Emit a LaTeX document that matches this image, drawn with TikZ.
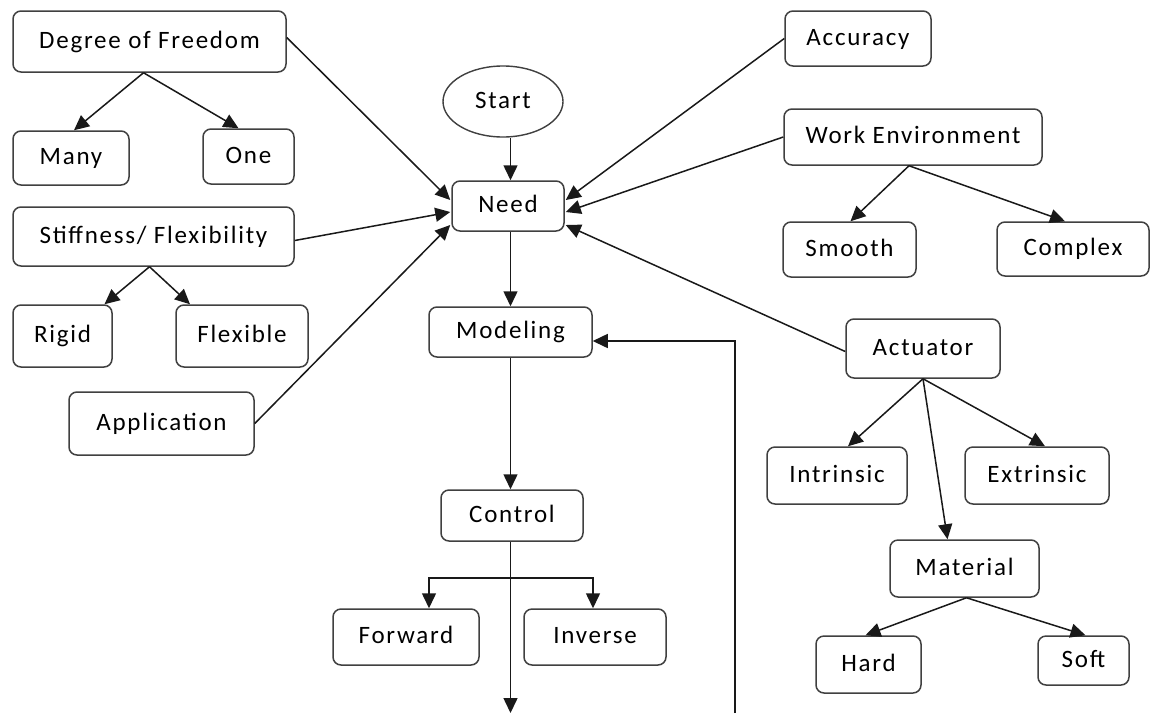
\documentclass[tikz,border=0pt]{standalone}
\usepackage{fontspec}
\setmainfont{Carlito}[LetterSpace=7]
\usetikzlibrary{arrows.meta,shapes.geometric,calc}
\tikzset{
  box/.style={draw=black!75, line width=1.5pt, rounded corners=8pt, fill=white, inner sep=0pt, text height=15pt, text depth=2pt, font=\fontsize{25}{30}\selectfont},
  conn/.style={draw=black!90, line width=1.5pt, -{Triangle[length=15pt,width=14pt]}},
  plain/.style={draw=black!90, line width=1.5pt}
}
\begin{document}
\begin{tikzpicture}[x=1pt,y=-1pt]
\useasboundingbox[fill=white] (0,0) rectangle (1151,713);
% left
\node[box, minimum width=273pt, minimum height=61pt] (dof) at (149.5,41.5) {Degree of Freedom};
\node[box, minimum width=116pt, minimum height=54pt] (many) at (71,158) {Many};
\node[box, minimum width=91pt, minimum height=55pt] (one) at (248.5,156.5) {One};
\node[box, minimum width=281pt, minimum height=59pt] (stf) at (153.5,236.5) {Stiffness/ Flexibility};
\node[box, minimum width=99pt, minimum height=62pt] (rigid) at (62.5,336) {Rigid};
\node[box, minimum width=132pt, minimum height=62pt] (flex) at (242,336) {Flexible};
\node[box, minimum width=185pt, minimum height=63pt] (app) at (161.5,423.5) {Application};
% center
\node[draw=black!75, line width=1.4pt, ellipse, fill=white, minimum width=120pt, minimum height=71pt, inner sep=0pt, text height=15pt, text depth=2pt, font=\fontsize{25}{30}\selectfont] (start) at (503,101.5) {Start};
\node[box, minimum width=112pt, minimum height=50pt] (need) at (508,206) {Need};
\node[box, minimum width=163pt, minimum height=50pt] (mod) at (510.5,332) {Modeling};
\node[box, minimum width=142pt, minimum height=51pt] (ctl) at (512,515.5) {Control};
\node[box, minimum width=146pt, minimum height=56pt] (fwd) at (406,637) {Forward};
\node[box, minimum width=142pt, minimum height=56pt] (inv) at (595,637) {Inverse};
% right
\node[box, minimum width=146pt, minimum height=55pt] (acc) at (858,38.5) {Accuracy};
\node[box, minimum width=258pt, minimum height=56pt] (work) at (913,137) {Work Environment};
\node[box, minimum width=133pt, minimum height=55pt] (smooth) at (849.5,249.5) {Smooth};
\node[box, minimum width=152pt, minimum height=54pt] (complex) at (1073,249) {Complex};
\node[box, minimum width=154pt, minimum height=59pt] (act) at (923,348.5) {Actuator};
\node[box, minimum width=140pt, minimum height=57pt] (intr) at (837,475.5) {Intrinsic};
\node[box, minimum width=144pt, minimum height=57pt] (extr) at (1037,475.5) {Extrinsic};
\node[box, minimum width=149pt, minimum height=57pt] (mat) at (964.5,568.5) {Material};
\node[box, minimum width=105pt, minimum height=57pt] (hard) at (868.5,664.5) {Hard};
\node[box, minimum width=91pt, minimum height=49pt] (soft) at (1083.5,660.5) {Soft};
% free ends
\coordinate (ctlend) at (510.5,713);
\coordinate (fb) at (735,713);
\coordinate (split) at (510.5,578);
% connectors
\draw[conn] ([xshift=-6pt]dof.south) -- ([xshift=3pt]many.north);
\draw[conn] ([xshift=-6pt]dof.south) -- ([xshift=-10pt]one.north);
\draw[conn] ([xshift=-4pt]stf.south) -- ([xshift=42pt]rigid.north);
\draw[conn] ([xshift=-4pt]stf.south) -- ([xshift=-52pt]flex.north);
\draw[conn] ([yshift=4pt]dof.east) -- ($(need.west)+(-1,-6)$);
\draw[conn] ([yshift=-4pt]stf.east) -- ($(need.west)+(-1,6)$);
\draw[conn] (app.east) -- ($(need.west)+(-1,19)$);
\draw[conn] (start.south -| mod.north) -- (need.north -| mod.north);
\draw[conn] (need.south -| mod.north) -- (mod.north);
\draw[conn] (mod.south) -- (ctl.north -| mod.south);
\draw[plain] (ctl.south -| mod.south) -- (split);
\draw[conn] (split) -- (ctlend);
\draw[conn] (split) -| ([xshift=23pt]fwd.north);
\draw[conn] (split) -| ([xshift=-2pt]inv.north);
\draw[conn] (fb) |- ([yshift=-9pt]mod.east);
\draw[conn] (acc.west) -- ($(need.east)+(1,-6)$);
\draw[conn] (work.west) -- ($(need.east)+(1,6)$);
\draw[conn] ([yshift=-3pt]act.west) -- ($(need.east)+(1,19)$);
\draw[conn] ([xshift=-4pt]work.south) -- ([xshift=1pt]smooth.north);
\draw[conn] ([xshift=-4pt]work.south) -- ([xshift=-8pt]complex.north);
\draw[conn] (act.south) -- ([xshift=11pt]intr.north);
\draw[conn] (act.south) -- ([xshift=8pt]extr.north);
\draw[conn] (act.south) -- ([xshift=-17pt]mat.north);
\draw[conn] ([xshift=2pt]mat.south) -- ([xshift=-3pt]hard.north);
\draw[conn] ([xshift=2pt]mat.south) -- ([xshift=2pt]soft.north);
\end{tikzpicture}
\end{document}
